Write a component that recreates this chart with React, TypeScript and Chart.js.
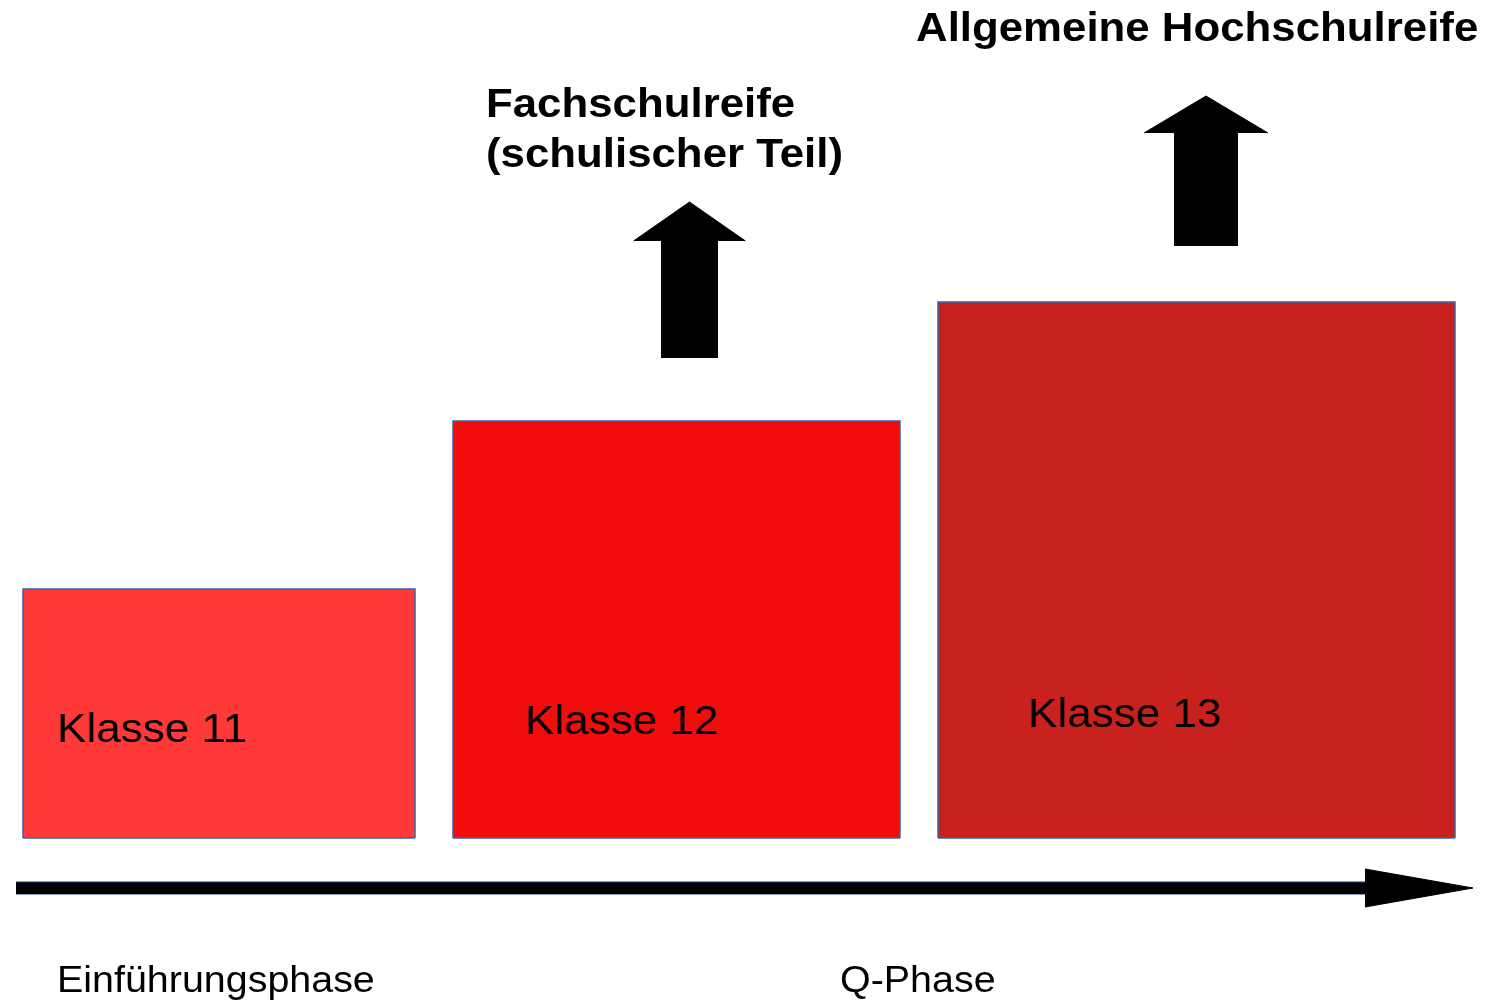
import React, { useEffect, useRef } from "react";
import { Chart, registerables } from "chart.js";

Chart.register(...registerables);

// Stages (blocks): horizontal extent along the timeline and height
const blockLabels = ["Klasse 11", "Klasse 12", "Klasse 13"];
const blockStart = [23, 453, 938];
const blockEnd = [415, 900, 1455];
const blockHeight = [249, 417, 536];
const blockColors = ["#FF3838", "#F10D0C", "#C9211E"];
const blockLabelX = [57, 525, 1028];
const blockLabelY = [96, 104, 111];

// Qualifications (up arrows + titles)
const goalLines = [["Fachschulreife", "(schulischer Teil)"], ["Allgemeine Hochschulreife"]];
const goalLabelX = [486, 916];
const goalLabelY = [[721, 671], [797]];
const arrowCenter = [689.5, 1206];
const arrowShaftHalf = [28, 31.5];
const arrowHeadHalf = [56, 62];
const arrowBottom = [480, 592];
const arrowHeadBase = [597, 705];
const arrowTip = [636, 742];

// Timeline
const phaseLabels = ["Einführungsphase", "Q-Phase"];
const phaseLabelX = [57, 840];
const phaseLabelY = [-154, -154];
const timelineStart = 16;
const timelineHeadStart = 1365;
const timelineEnd = 1473;
const timelineY = -50;
const timelineShaftHalf = 6;
const timelineHeadHalf = 19;

const FONT = '"Liberation Sans", Arial, sans-serif';

function buildDatasets() {
  const ds: any[] = [];
  const base = { pointRadius: 0, tension: 0, showLine: true };
  arrowCenter.forEach((c, i) => {
    ds.push({
      ...base,
      order: 1,
      data: [
        { x: c - arrowHeadHalf[i], y: arrowHeadBase[i] },
        { x: c, y: arrowTip[i] },
        { x: c + arrowHeadHalf[i], y: arrowHeadBase[i] },
      ],
      fill: { value: arrowHeadBase[i] },
      backgroundColor: "#000000",
      borderColor: "#000000",
      borderWidth: 1,
    });
    ds.push({
      ...base,
      order: 2,
      data: [
        { x: c - arrowShaftHalf[i], y: arrowBottom[i] },
        { x: c - arrowShaftHalf[i], y: arrowHeadBase[i] },
        { x: c + arrowShaftHalf[i], y: arrowHeadBase[i] },
        { x: c + arrowShaftHalf[i], y: arrowBottom[i] },
      ],
      fill: { value: arrowBottom[i] },
      backgroundColor: "#000000",
      borderColor: "#000000",
      borderWidth: 1,
    });
  });
  // timeline shaft
  ds.push({
    ...base,
    order: 3,
    data: [
      { x: timelineStart, y: timelineY + timelineShaftHalf },
      { x: timelineHeadStart + 1, y: timelineY + timelineShaftHalf },
    ],
    fill: { value: timelineY - timelineShaftHalf },
    backgroundColor: "#000000",
    borderColor: "#1c3f78",
    borderWidth: 1,
  });
  ds.push({
    ...base,
    order: 3,
    data: [
      { x: timelineStart, y: timelineY - timelineShaftHalf },
      { x: timelineHeadStart + 1, y: timelineY - timelineShaftHalf },
    ],
    fill: false,
    borderColor: "#1c3f78",
    borderWidth: 1,
  });
  // timeline head (upper and lower halves)
  [1, -1].forEach((s) => {
    ds.push({
      ...base,
      order: 1,
      data: [
        { x: timelineHeadStart, y: timelineY + s * timelineHeadHalf },
        { x: timelineEnd, y: timelineY },
      ],
      fill: { value: timelineY },
      backgroundColor: "#000000",
      borderColor: "#000000",
      borderWidth: 1,
    });
  });
  // blocks
  blockLabels.forEach((_, i) => {
    ds.push({
      ...base,
      order: 5,
      data: [
        { x: blockStart[i], y: 0 },
        { x: blockStart[i], y: blockHeight[i] },
        { x: blockEnd[i], y: blockHeight[i] },
        { x: blockEnd[i], y: 0 },
      ],
      fill: "origin",
      backgroundColor: blockColors[i],
      borderColor: "#3465A4",
      borderWidth: 1.5,
    });
    ds.push({
      ...base,
      order: 4,
      data: [
        { x: blockStart[i], y: 0 },
        { x: blockEnd[i], y: 0 },
      ],
      fill: false,
      borderColor: "#3465A4",
      borderWidth: 1.5,
    });
  });
  return ds;
}

const textPlugin = {
  id: "diagramText",
  afterDatasetsDraw(chart: any) {
    const { ctx, scales } = chart;
    const xs = scales.x;
    const ys = scales.y;
    const draw = (t: string, x: number, y: number, font: string, sx: number) => {
      ctx.save();
      ctx.font = font;
      ctx.fillStyle = "#000000";
      ctx.textAlign = "left";
      ctx.textBaseline = "alphabetic";
      ctx.translate(xs.getPixelForValue(x), ys.getPixelForValue(y));
      ctx.scale(sx, 1);
      ctx.fillText(t, 0, 0);
      ctx.restore();
    };
    blockLabels.forEach((t, i) => draw(t, blockLabelX[i], blockLabelY[i], `41px ${FONT}`, 1.075));
    goalLines.forEach((lines, i) =>
      lines.forEach((t, j) => draw(t, goalLabelX[i], goalLabelY[i][j], `bold 40px ${FONT}`, 1.095))
    );
    phaseLabels.forEach((t, i) => draw(t, phaseLabelX[i], phaseLabelY[i], `36px ${FONT}`, 1.095));
  },
};

export default function App() {
  const ref = useRef<HTMLCanvasElement | null>(null);
  useEffect(() => {
    document.body.style.margin = "0";
    document.body.style.background = "#ffffff";
    const canvas = ref.current!;
    const chart = new Chart(canvas, {
      type: "line",
      data: { datasets: buildDatasets() },
      options: {
        animation: false,
        responsive: false,
        maintainAspectRatio: false,
        devicePixelRatio: 1,
        layout: { padding: 0 },
        plugins: { legend: { display: false }, tooltip: { enabled: false }, title: { display: false } },
        events: [],
        scales: {
          x: { type: "linear", min: 0, max: 1500, display: false },
          y: { type: "linear", min: -164, max: 838, display: false },
        },
      },
      plugins: [textPlugin],
    });
    return () => chart.destroy();
  }, []);
  return (
    <div style={{ width: 1500, height: 1002, background: "#ffffff" }}>
      <canvas ref={ref} width={1500} height={1002} style={{ display: "block" }} />
    </div>
  );
}
